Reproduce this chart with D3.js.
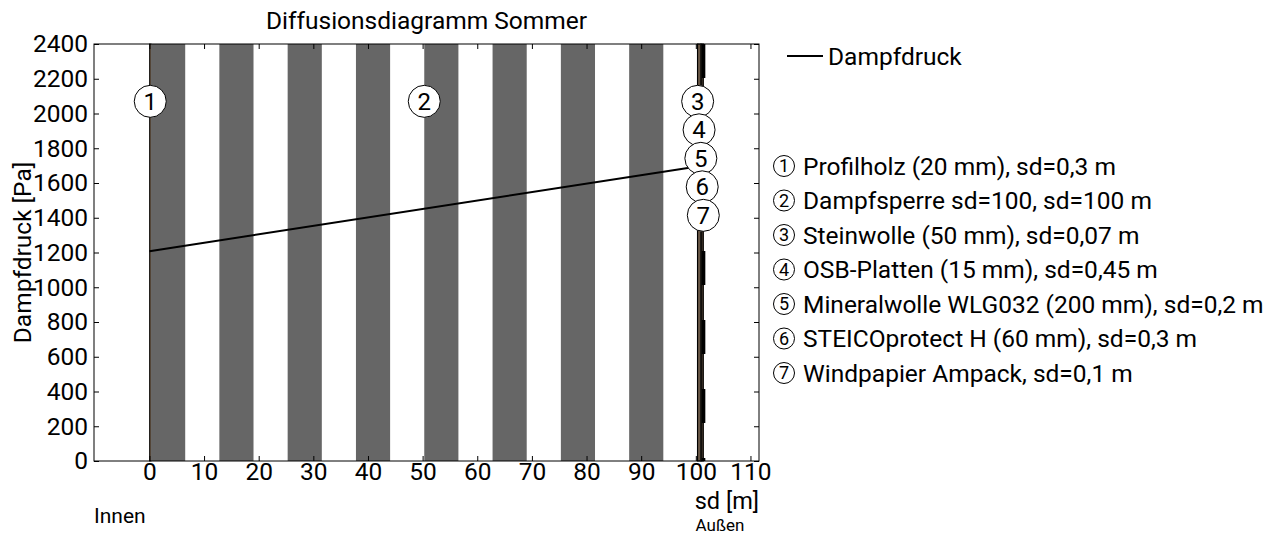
<!DOCTYPE html>
<html>
<head>
<meta charset="utf-8">
<script src="https://cdn.jsdelivr.net/npm/d3@7"></script>
<style>
    body { margin: 0; background: #fff; }
    svg text { font-family: Roboto, "Noto Sans", sans-serif; fill: #000; }
</style>
</head>
<body>
<div id="chart"></div>
<script>
// Layers (inside -> outside)
var layerNames = [
    'Profilholz (20 mm), sd=0,3 m',
    'Dampfsperre sd=100, sd=100 m',
    'Steinwolle (50 mm), sd=0,07 m',
    'OSB-Platten (15 mm), sd=0,45 m',
    'Mineralwolle WLG032 (200 mm), sd=0,2 m',
    'STEICOprotect H (60 mm), sd=0,3 m',
    'Windpapier Ampack, sd=0,1 m'
];
var layerSd = [0.3, 100, 0.07, 0.45, 0.2, 0.3, 0.1];
var layerKind = ['wood', 'stripes', 'wood', 'wood', 'wood', 'wood', 'dash'];

// Dampfdruck at the layer boundaries
var pressureSd = [0, 0.3, 100.3, 100.37, 100.82, 101.02, 101.32, 101.42];
var pressurePa = [1207, 1208.5, 1695, 1695.3, 1697.5, 1698.5, 1700, 1700.5];

var xTicks = [0, 10, 20, 30, 40, 50, 60, 70, 80, 90, 100, 110];
var yTicks = [0, 200, 400, 600, 800, 1000, 1200, 1400, 1600, 1800, 2000, 2200, 2400];
var labelPa = 2070;

(function () {
    var W = 1278, H = 535;
    var margin = { top: 44, right: 519, bottom: 74, left: 94 };
    var width = W - margin.left - margin.right;
    var height = H - margin.top - margin.bottom;
    var fs = 24.5;

    var total = d3.sum(layerSd);
    var edges = [0];
    layerSd.forEach(function (s, i) { edges.push(edges[i] + s); });

    var svg = d3.select('#chart').append('svg')
        .attr('width', W).attr('height', H);
    var g = svg.append('g')
        .attr('transform', 'translate(' + margin.left + ',' + margin.top + ')');

    var x = d3.scaleLinear()
        .domain([-0.1 * total, 1.1 * total])
        .range([0, width]);
    var y = d3.scaleLinear()
        .domain([0, 2400])
        .range([height, 0]);

    // Layers
    var brown = '#7f6a55';
    layerSd.forEach(function (s, i) {
        var x0 = x(edges[i]), x1 = x(edges[i + 1]);
        if (layerKind[i] === 'stripes') {
            var n = 16, w = (x1 - x0) / n;
            for (var k = 0; k < n; k += 2) {
                g.append('rect')
                    .attr('x', x0 + k * w).attr('y', 0)
                    .attr('width', w).attr('height', height)
                    .attr('fill', '#666666');
            }
        } else {
            g.append('rect')
                .attr('x', x0).attr('y', 0)
                .attr('width', Math.max(x1 - x0, 0.5)).attr('height', height)
                .attr('fill', brown)
                .attr('stroke', '#000')
                .attr('stroke-width', 0.8);
        }
        if (layerKind[i] === 'dash') {
            g.append('line')
                .attr('x1', x1).attr('x2', x1)
                .attr('y1', 0).attr('y2', height)
                .attr('stroke', '#000')
                .attr('stroke-width', 3.5)
                .attr('stroke-dasharray', '34 35');
        }
    });
    // boundary of the stripe layer on the outer side
    g.append('line')
        .attr('x1', x(edges[2])).attr('x2', x(edges[2]))
        .attr('y1', 0).attr('y2', height)
        .attr('stroke', '#000').attr('stroke-width', 1);

    // Axes (box with inward ticks)
    var tl = 5;
    g.append('g')
        .attr('transform', 'translate(0,' + height + ')')
        .call(d3.axisBottom(x).tickValues(xTicks).tickSizeInner(-tl).tickSizeOuter(0).tickPadding(2))
        .call(function (a) { a.select('.domain').remove(); })
        .selectAll('text').style('font-size', fs + 'px');
    g.append('g')
        .call(d3.axisTop(x).tickValues(xTicks).tickSizeInner(-tl).tickSizeOuter(0).tickFormat(''))
        .call(function (a) { a.select('.domain').remove(); });
    g.append('g')
        .call(d3.axisLeft(y).tickValues(yTicks).tickSizeInner(-tl).tickSizeOuter(0)
            .tickPadding(6).tickFormat(d3.format('d')))
        .call(function (a) { a.select('.domain').remove(); })
        .selectAll('text').style('font-size', fs + 'px');
    g.append('g')
        .attr('transform', 'translate(' + width + ',0)')
        .call(d3.axisRight(y).tickValues(yTicks).tickSizeInner(-tl).tickSizeOuter(0).tickFormat(''))
        .call(function (a) { a.select('.domain').remove(); });
    g.selectAll('.tick line').attr('stroke', '#000');
    g.selectAll('.tick text').attr('fill', '#000').style('font-family', 'Roboto');

    g.append('rect')
        .attr('width', width).attr('height', height)
        .attr('fill', 'none').attr('stroke', '#000').attr('stroke-width', 1);

    // Dampfdruck line
    var pts = pressureSd.map(function (s, i) { return [s, pressurePa[i]]; });
    g.append('path')
        .datum(pts)
        .attr('fill', 'none')
        .attr('stroke', '#000')
        .attr('stroke-width', 2)
        .attr('d', d3.line().x(function (d) { return x(d[0]); }).y(function (d) { return y(d[1]); }));

    // Layer number circles
    var stack = 0, prevCx = null;
    layerSd.forEach(function (s, i) {
        var cx = x((edges[i] + edges[i + 1]) / 2);
        stack = (prevCx !== null && Math.abs(cx - prevCx) < 30) ? stack + 1 : 0;
        prevCx = cx;
        var cy = y(labelPa) + stack * 28.5;
        g.append('circle')
            .attr('cx', cx).attr('cy', cy).attr('r', 16)
            .attr('fill', '#fff').attr('stroke', '#000').attr('stroke-width', 1);
        g.append('text')
            .attr('x', cx).attr('y', cy)
            .attr('dy', '0.36em')
            .attr('text-anchor', 'middle')
            .style('font-size', '24px')
            .text(i + 1);
    });

    // Titles and axis labels
    svg.append('text')
        .attr('x', margin.left + width / 2).attr('y', 29)
        .attr('text-anchor', 'middle')
        .style('font-size', fs + 'px')
        .text('Diffusionsdiagramm Sommer');
    svg.append('text')
        .attr('transform', 'translate(' + 31 + ',' + (margin.top + height / 2) + ') rotate(-90)')
        .attr('text-anchor', 'middle')
        .style('font-size', fs + 'px')
        .text('Dampfdruck [Pa]');
    svg.append('text')
        .attr('x', margin.left + width).attr('y', 508.5)
        .attr('text-anchor', 'end')
        .style('font-size', '23.5px')
        .text('sd [m]');
    svg.append('text')
        .attr('x', 720).attr('y', 530.5)
        .attr('text-anchor', 'middle')
        .style('font-size', '17px')
        .text('Außen');
    svg.append('text')
        .attr('x', margin.left).attr('y', 523)
        .style('font-size', '21px')
        .text('Innen');

    // Legend
    svg.append('line')
        .attr('x1', 787).attr('x2', 823).attr('y1', 56).attr('y2', 56)
        .attr('stroke', '#000').attr('stroke-width', 2);
    svg.append('text')
        .attr('x', 828).attr('y', 56).attr('dy', '0.36em')
        .style('font-size', fs + 'px')
        .text('Dampfdruck');

    layerNames.forEach(function (name, i) {
        var ly = 166 + i * 34.5;
        svg.append('circle')
            .attr('cx', 784).attr('cy', ly).attr('r', 10.5)
            .attr('fill', 'none').attr('stroke', '#000').attr('stroke-width', 1);
        svg.append('text')
            .attr('x', 784).attr('y', ly).attr('dy', '0.36em')
            .attr('text-anchor', 'middle')
            .style('font-size', '18px')
            .text(i + 1);
        svg.append('text')
            .attr('x', 803).attr('y', ly).attr('dy', '0.36em')
            .style('font-size', fs + 'px')
            .text(name);
    });
})();
</script>
</body>
</html>
